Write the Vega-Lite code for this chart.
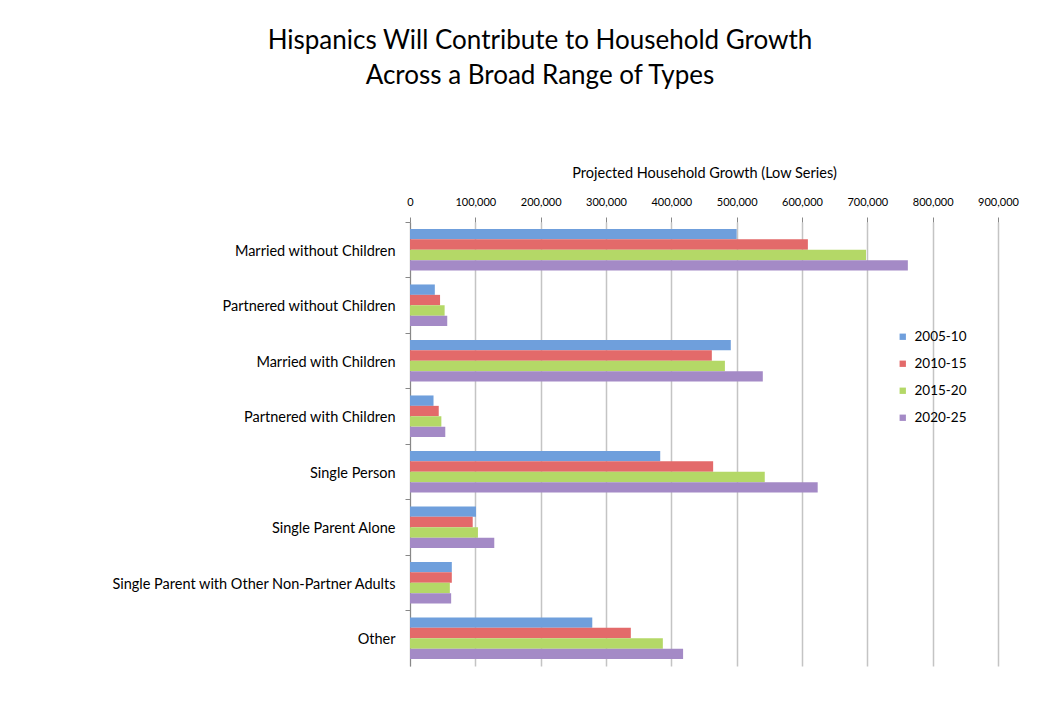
{
  "$schema": "https://vega.github.io/schema/vega-lite/v6.json",
  "autosize": "none",
  "width": 588,
  "height": 444,
  "padding": {"left": 410, "top": 222, "right": 63, "bottom": 59},
  "background": "white",
  "config": {"font": "Lato", "view": {"stroke": null}},
  "title": {
    "text": ["Hispanics Will Contribute to Household Growth", "Across a Broad Range of Types"],
    "fontSize": 26,
    "fontWeight": "normal",
    "color": "#000000",
    "anchor": "middle",
    "frame": "group",
    "dx": -164,
    "offset": 76,
    "lineHeight": 35
  },
  "data": {
    "values": [
      {"type": "Married without Children", "period": "2005-10", "growth": 500000},
      {"type": "Married without Children", "period": "2010-15", "growth": 609000},
      {"type": "Married without Children", "period": "2015-20", "growth": 698000},
      {"type": "Married without Children", "period": "2020-25", "growth": 762000},
      {"type": "Partnered without Children", "period": "2005-10", "growth": 38000},
      {"type": "Partnered without Children", "period": "2010-15", "growth": 46000},
      {"type": "Partnered without Children", "period": "2015-20", "growth": 53000},
      {"type": "Partnered without Children", "period": "2020-25", "growth": 57000},
      {"type": "Married with Children", "period": "2005-10", "growth": 491000},
      {"type": "Married with Children", "period": "2010-15", "growth": 462000},
      {"type": "Married with Children", "period": "2015-20", "growth": 482000},
      {"type": "Married with Children", "period": "2020-25", "growth": 540000},
      {"type": "Partnered with Children", "period": "2005-10", "growth": 36000},
      {"type": "Partnered with Children", "period": "2010-15", "growth": 44000},
      {"type": "Partnered with Children", "period": "2015-20", "growth": 48000},
      {"type": "Partnered with Children", "period": "2020-25", "growth": 54000},
      {"type": "Single Person", "period": "2005-10", "growth": 383000},
      {"type": "Single Person", "period": "2010-15", "growth": 464000},
      {"type": "Single Person", "period": "2015-20", "growth": 543000},
      {"type": "Single Person", "period": "2020-25", "growth": 624000},
      {"type": "Single Parent Alone", "period": "2005-10", "growth": 101000},
      {"type": "Single Parent Alone", "period": "2010-15", "growth": 96000},
      {"type": "Single Parent Alone", "period": "2015-20", "growth": 104000},
      {"type": "Single Parent Alone", "period": "2020-25", "growth": 129000},
      {"type": "Single Parent with Other Non-Partner Adults", "period": "2005-10", "growth": 64000},
      {"type": "Single Parent with Other Non-Partner Adults", "period": "2010-15", "growth": 64000},
      {"type": "Single Parent with Other Non-Partner Adults", "period": "2015-20", "growth": 61000},
      {"type": "Single Parent with Other Non-Partner Adults", "period": "2020-25", "growth": 63000},
      {"type": "Other", "period": "2005-10", "growth": 279000},
      {"type": "Other", "period": "2010-15", "growth": 338000},
      {"type": "Other", "period": "2015-20", "growth": 387000},
      {"type": "Other", "period": "2020-25", "growth": 418000}
    ]
  },
  "mark": {"type": "bar"},
  "encoding": {
    "y": {
      "field": "type",
      "type": "nominal",
      "sort": null,
      "scale": {"paddingInner": 0, "paddingOuter": 0},
      "axis": {
        "title": null,
        "labelFontSize": 14.5,
        "labelColor": "#000000",
        "labelPadding": 10,
        "labelLimit": 400,
        "labelOffset": 2,
        "tickSize": 5,
        "tickColor": "#888888",
        "domainColor": "#888888",
        "bandPosition": 0,
        "grid": false
      }
    },
    "yOffset": {
      "field": "period",
      "type": "nominal",
      "scale": {"paddingInner": 0, "paddingOuter": 0.67}
    },
    "x": {
      "field": "growth",
      "type": "quantitative",
      "scale": {"domain": [0, 900000], "nice": false},
      "axis": {
        "orient": "top",
        "values": [0, 100000, 200000, 300000, 400000, 500000, 600000, 700000, 800000, 900000],
        "format": ",.0f",
        "labelFontSize": 11,
        "labelColor": "#000000",
        "labelPadding": 10,
        "labelAlign": "center",
        "labelFlush": false,
        "tickSize": 5,
        "tickColor": "#888888",
        "domain": false,
        "grid": true,
        "gridColor": "#c4c4c4",
        "gridWidth": 1.5,
        "title": "Projected Household Growth (Low Series)",
        "titleFontSize": 14.5,
        "titleFontWeight": "normal",
        "titleColor": "#000000",
        "titlePadding": 16
      }
    },
    "color": {
      "field": "period",
      "type": "nominal",
      "scale": {"range": ["#6f9fdc", "#e36a6a", "#b4d867", "#a48ac6"]},
      "legend": {
        "title": null,
        "orient": "none",
        "legendX": 486,
        "legendY": 108,
        "symbolType": "square",
        "symbolSize": 40,
        "labelFontSize": 13.5,
        "labelOffset": 5,
        "labelColor": "#000000",
        "rowPadding": 12
      }
    }
  }
}
